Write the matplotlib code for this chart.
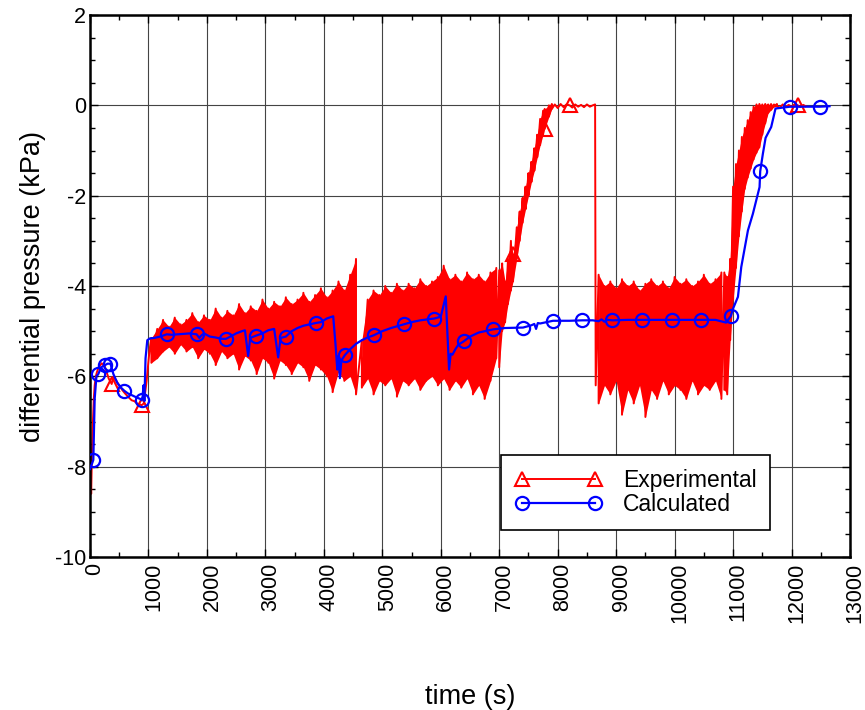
import numpy as np
import matplotlib.pyplot as plt
import matplotlib.transforms as mtransforms
from matplotlib.ticker import MultipleLocator

plt.rcParams['font.family'] = ['Liberation Sans', 'DejaVu Sans']
plt.rcParams['axes.unicode_minus'] = False

# ---- experimental differential pressure (kPa) vs time (s) ----
# start-up
exp_t0 = [0, 10, 20, 35, 50, 65, 80, 100, 120, 150, 200, 256, 320, 371, 400, 450, 500,
          550, 600, 650, 712, 760, 800, 850, 883, 920, 950, 969, 990, 1020]
exp_p0 = [-8.55, -8.2, -8.6, -7.6, -7.0, -6.5, -6.2, -6.0, -5.9, -5.8, -5.71, -5.79, -6.05,
          -6.17, -6.01, -6.1, -6.2, -6.3, -6.38, -6.45, -6.53, -6.55, -6.6, -6.62, -6.64,
          -6.6, -6.3, -6.1, -5.8, -5.4]

# oscillating period 1: top / bottom of each swing
band1_t = [1050, 1150, 1250, 1350, 1450, 1550, 1650, 1750, 1850, 1950, 2050, 2150, 2250,
           2350, 2450, 2550, 2650, 2750, 2850, 2950, 3050, 3150, 3250, 3350, 3450, 3550,
           3650, 3750, 3850, 3950, 4050, 4150, 4250, 4350, 4450, 4550]
band1_hi = [-5.15, -4.95, -4.75, -4.9, -4.7, -4.85, -4.75, -4.6, -4.8, -4.65, -4.75, -4.5,
            -4.7, -4.55, -4.65, -4.4, -4.6, -4.45, -4.55, -4.3, -4.5, -4.35, -4.45, -4.25,
            -4.4, -4.3, -4.15, -4.35, -4.2, -4.05, -4.25, -4.1, -3.9, -4.1, -3.75, -3.4]
band1_lo = [-5.7, -5.6, -5.45, -5.35, -5.5, -5.3, -5.45, -5.35, -5.6, -5.4, -5.5, -5.75,
            -5.45, -5.6, -5.5, -5.85, -5.55, -5.65, -5.95, -5.6, -5.7, -6.05, -5.65, -5.75,
            -5.95, -5.7, -5.8, -6.1, -5.75, -5.85, -6.0, -6.35, -5.9, -6.1, -6.0, -6.4]

# oscillating period 2
band2_t = [4650, 4750, 4850, 4950, 5050, 5150, 5250, 5350, 5450, 5550, 5650, 5750, 5850,
           5950, 6050, 6150, 6250, 6350, 6450, 6550, 6650, 6750, 6850, 6950]
band2_hi = [-5.2, -4.3, -4.1, -4.2, -4.0, -4.15, -3.95, -4.1, -3.95, -4.05, -3.85, -4.0,
            -3.9, -3.8, -3.55, -3.85, -3.75, -3.9, -3.7, -3.85, -3.75, -3.9, -3.7, -3.6]
band2_lo = [-6.25, -6.05, -6.4, -6.1, -6.2, -6.05, -6.45, -6.1, -6.2, -6.05, -6.3, -6.1,
            -6.0, -6.2, -6.05, -6.3, -6.1, -6.25, -6.05, -6.4, -6.2, -6.5, -6.1, -5.6]

# first rise to zero
ramp1_t = [7000, 7050, 7100, 7150, 7200, 7236, 7300, 7350, 7400, 7450, 7500, 7550, 7600,
           7650, 7700, 7750, 7778, 7850, 7900]
ramp1_hi = [-3.65, -3.5, -3.9, -3.4, -3.0, -3.3, -2.7, -2.35, -2.05, -1.8, -1.5, -1.25,
            -0.95, -0.65, -0.3, -0.12, -0.08, 0.0, 0.03]
ramp1_lo = [-5.8, -5.0, -4.8, -4.4, -4.1, -3.9, -3.4, -3.0, -2.6, -2.3, -2.0, -1.7, -1.45,
            -1.15, -0.88, -0.65, -0.52, -0.25, -0.08]

# plateau, then sudden drop
flat1_t = [7950, 8000, 8050, 8100, 8150, 8205, 8250, 8300, 8350, 8400, 8450, 8500, 8550,
           8600, 8640, 8650]
flat1_p = [0.02, -0.06, 0.03, -0.04, 0.02, 0.0, -0.05, 0.02, -0.03, 0.01, -0.04, 0.02,
           -0.03, 0.0, 0.02, -6.2]

# oscillating period 3
band3_t = [8700, 8800, 8900, 9000, 9100, 9200, 9300, 9400, 9500, 9600, 9700, 9800, 9900,
           10000, 10100, 10200, 10300, 10400, 10500, 10600, 10700, 10800]
band3_hi = [-3.75, -4.0, -3.9, -4.05, -3.85, -4.0, -3.9, -4.1, -3.95, -3.85, -4.0, -3.9,
            -4.05, -3.8, -3.95, -3.85, -4.0, -3.9, -3.75, -3.95, -3.85, -3.7]
band3_lo = [-6.6, -6.2, -6.4, -6.1, -6.85, -6.3, -6.6, -6.2, -6.9, -6.3, -6.5, -6.1, -6.4,
            -6.2, -6.3, -6.5, -6.1, -6.4, -6.2, -6.3, -6.1, -6.5]

# second rise to zero
ramp2_t = [10850, 10900, 10950, 11000, 11050, 11100, 11150, 11200, 11250, 11300, 11350,
           11400, 11450, 11500, 11550, 11600, 11650, 11700, 11750]
ramp2_hi = [-3.7, -3.8, -3.4, -1.8, -1.3, -1.0, -0.7, -0.5, -0.33, -0.15, -0.03, 0.02,
            0.03, 0.02, 0.03, 0.02, 0.03, 0.02, 0.03]
ramp2_lo = [-6.3, -6.4, -5.2, -4.3, -3.6, -2.9, -2.35, -1.85, -1.6, -1.4, -1.2, -1.05,
            -0.93, -0.65, -0.4, -0.17, -0.1, -0.03, -0.02]

# final plateau
flat2_t = [11800, 11850, 11900, 11950, 12000, 12050, 12108, 12150, 12200, 12240]
flat2_p = [-0.05, 0.02, -0.04, 0.01, -0.03, 0.02, 0.0, -0.04, 0.01, -0.02]

exp_marker_t = [371, 883, 7236, 7778, 8205, 12108]
exp_marker_p = [-6.17, -6.64, -3.3, -0.52, 0.0, 0.0]

# ---- calculated ----
calc_t = [0, 30, 57, 80, 110, 142, 190, 260, 300, 350, 400, 470, 530, 587, 650, 720, 800,
          860, 883, 900, 915, 930, 950, 980, 1026, 1100, 1200, 1311, 1400, 1600, 1700, 1823,
          1870, 1900, 1950, 2050, 2150, 2250, 2325, 2400, 2500, 2600, 2650, 2706, 2740, 2838,
          2950, 3050, 3150, 3219, 3260, 3350, 3450, 3550, 3650, 3750, 3858, 3950, 4050, 4160,
          4200, 4230, 4250, 4274, 4300, 4359, 4450, 4550, 4650, 4750, 4855, 5000, 5150, 5368,
          5500, 5650, 5886, 6000, 6085, 6120, 6142, 6170, 6200, 6250, 6300, 6398, 6500, 6650,
          6895, 7100, 7407, 7550, 7600, 7630, 7660, 7700, 7920, 8200, 8422, 8600, 8700, 8750,
          8800, 8850, 8935, 9200, 9441, 9700, 9949, 10200, 10456, 10700, 10880, 10960, 11000,
          11083, 11140, 11254, 11339, 11453, 11464, 11510, 11556, 11652, 11726, 11977, 12200,
          12479, 12650]
calc_p = [-8.05, -7.95, -7.85, -6.5, -6.0, -5.95, -5.8, -5.75, -5.72, -5.72, -5.95, -6.15,
          -6.25, -6.32, -6.38, -6.42, -6.47, -6.5, -6.53, -6.45, -6.2, -6.55, -5.6, -5.2,
          -5.16, -5.15, -5.12, -5.07, -5.08, -5.06, -5.05, -5.07, -5.15, -5.1, -5.05, -5.12,
          -5.14, -5.17, -5.17, -5.12, -5.05, -5.0, -4.98, -5.55, -5.15, -5.1, -5.05, -4.98,
          -4.95, -5.58, -5.15, -5.12, -5.0, -4.93, -4.88, -4.85, -4.82, -4.8, -4.72, -4.67,
          -5.3, -5.85, -5.55, -6.04, -5.65, -5.53, -5.4, -5.28, -5.2, -5.14, -5.09, -5.0,
          -4.93, -4.85, -4.8, -4.76, -4.72, -4.68, -4.23, -5.2, -5.85, -5.5, -5.52, -5.4,
          -5.3, -5.22, -5.12, -5.03, -4.96, -4.93, -4.92, -4.87, -4.84, -4.95, -4.82, -4.83,
          -4.77, -4.77, -4.76, -4.76, -4.78, -4.74, -4.79, -4.75, -4.76, -4.75, -4.75, -4.75,
          -4.75, -4.75, -4.75, -4.75, -4.81, -4.67, -4.5, -4.24, -3.58, -2.77, -2.4, -1.81,
          -1.46, -1.07, -0.72, -0.48, -0.07, -0.03, -0.03, -0.03, -0.02]

calc_marker_t = [57, 142, 260, 350, 587, 883, 1311, 1823, 2325, 2838, 3350, 3858, 4359,
                 4855, 5368, 5886, 6398, 6895, 7407, 7920, 8422, 8935, 9441, 9949, 10456,
                 10960, 11464, 11977, 12479]


def swing(t, hi, lo):
    # each sample drawn as a full swing from top to bottom
    xs, ys = [], []
    for ti, h, l in zip(t, hi, lo):
        xs += [ti, ti]
        ys += [h, l]
    return xs, ys


bands = [(band1_t, band1_hi, band1_lo), (band2_t, band2_hi, band2_lo),
         (ramp1_t, ramp1_hi, ramp1_lo), (band3_t, band3_hi, band3_lo),
         (ramp2_t, ramp2_hi, ramp2_lo)]
sw = [swing(*b) for b in bands]

exp_t = np.array(exp_t0 + sw[0][0] + sw[1][0] + sw[2][0] + flat1_t + sw[3][0] + sw[4][0]
                 + flat2_t, dtype=float)
exp_p = np.array(exp_p0 + sw[0][1] + sw[1][1] + sw[2][1] + flat1_p + sw[3][1] + sw[4][1]
                 + flat2_p, dtype=float)
exp_marks = [int(np.where((exp_t == mt) & np.isclose(exp_p, mp))[0][0])
             for mt, mp in zip(exp_marker_t, exp_marker_p)]

calc_t = np.array(calc_t, dtype=float)
calc_p = np.array(calc_p, dtype=float)
calc_marks = [int(np.where(calc_t == m)[0][0]) for m in calc_marker_t]

fig = plt.figure(figsize=(8.65, 7.10), dpi=100)
ax = fig.add_axes([90 / 865, 153 / 710, 760 / 865, 542 / 710])

# the oscillations are too fast to resolve: shade the swing range underneath
for bt, bhi, blo in bands:
    ax.fill_between(bt, blo, bhi, color='red', lw=0, zorder=2)

ax.plot(exp_t, exp_p, color='red', lw=1.4, marker='^', markersize=10,
        markerfacecolor='none', markeredgewidth=1.5, markevery=exp_marks,
        label='Experimental', zorder=2)
ax.plot(calc_t, calc_p, color='blue', lw=1.6, marker='o', markersize=9.5,
        markerfacecolor='none', markeredgewidth=1.6, markevery=calc_marks,
        label='Calculated', zorder=3)

ax.set_xlim(0, 13000)
ax.set_ylim(-10, 2)
ax.xaxis.set_major_locator(MultipleLocator(1000))
ax.xaxis.set_minor_locator(MultipleLocator(500))
ax.yaxis.set_major_locator(MultipleLocator(2))
ax.yaxis.set_minor_locator(MultipleLocator(0.5))
ax.grid(True, which='major', color='#444444', lw=0.8)
ax.set_axisbelow(True)

ax.tick_params(which='both', direction='in', top=True, right=True, labelsize=15.5,
               width=1.0, colors='black')
ax.tick_params(which='major', length=6)
ax.tick_params(which='minor', length=3.5)
ax.tick_params(axis='x', labelrotation=90, pad=4)
ax.tick_params(axis='y', pad=3)
for s in ax.spines.values():
    s.set_linewidth(1.8)

# rotated x labels sit slightly right of their ticks
shift = mtransforms.ScaledTranslation(5 / 100, 0, fig.dpi_scale_trans)
for lab in ax.get_xticklabels():
    lab.set_transform(lab.get_transform() + shift)

ax.set_xlabel('time (s)', fontsize=19.5, labelpad=44)
ax.set_ylabel('differential pressure (kPa)', fontsize=19.5, labelpad=6)

leg = ax.legend(loc='lower right', bbox_to_anchor=(0.895, 0.05), fontsize=16.5,
                numpoints=2, handlelength=3.8, handletextpad=0.9, labelspacing=0.05,
                borderpad=0.6, fancybox=False, framealpha=1, edgecolor='black',
                borderaxespad=0)
leg.get_frame().set_linewidth(1.2)

fig.savefig('out.png', dpi=100)
